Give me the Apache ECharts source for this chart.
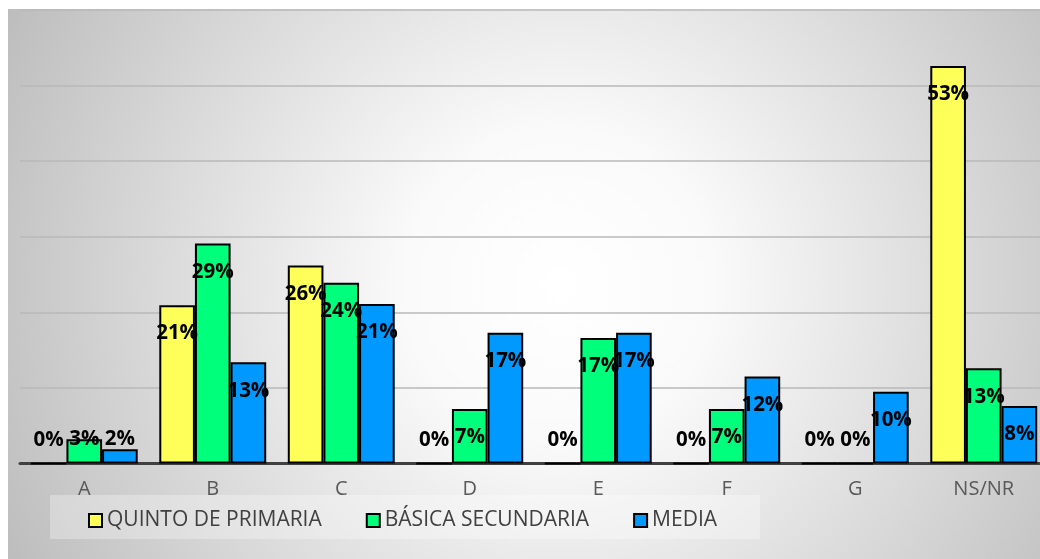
<!DOCTYPE html>
<html><head><meta charset="utf-8">
<script src="https://cdn.jsdelivr.net/npm/echarts@6/dist/echarts.min.js"></script>
<style>
html,body{margin:0;padding:0;background:#fff;overflow:hidden;width:1040px;height:559px;}
#c{position:absolute;left:8px;top:9px;width:1040px;height:550px;}
</style></head>
<body><div id="c"></div>
<script>
const categories = ['A','B','C','D','E','F','G','NS/NR'];
const seriesNames = ['QUINTO DE PRIMARIA','BÁSICA SECUNDARIA','MEDIA'];
const quinto = [0, 20.95, 26.2, 0, 0, 0, 0, 52.6];
const basica = [3.2, 29.1, 23.9, 7.2, 16.6, 7.2, 0, 12.6];
const media = [1.9, 13.4, 21.1, 17.3, 17.3, 11.5, 9.5, 7.6];
const colors = ['#FFFF59','#00FF7A','#0099FF'];

const labelFont = {fontFamily:'Open Sans', fontWeight:'bold', fontSize:20.5, color:'#000'};
function items(arr){
  return arr.map(v => ({
    value: v,
    label: v >= 5 ? {position:'insideTop', distance: 18} : {position:'insideBottom', distance: 14}
  }));
}
const allVals = [quinto, basica, media];
const series = allVals.map((arr,i)=>({
  name: seriesNames[i], type:'bar', data: items(arr),
  barGap:'0%', barCategoryGap:'16.8%',
  itemStyle:{color:colors[i], borderColor:'#000', borderWidth:2},
  label:Object.assign({show:true, formatter: p => Math.round(p.value)+'%'}, labelFont)
}));

const chart = echarts.init(document.getElementById('c'), null, {renderer:'canvas'});
chart.setOption({
  animation:false,
  backgroundColor:{type:'radial', x:0.53, y:0.5, r:1.12,
    colorStops:[{offset:0,color:'#ffffff'},{offset:0.25,color:'#fafafa'},{offset:1,color:'#bdbdbd'}]},
  graphic:[{type:'rect', z:-1, shape:{x:42,y:486,width:710,height:44}, style:{fill:'rgba(255,255,255,0.3)'}}],
  grid:{left:12, right:0, top:1, bottom:95.5},
  legend:{data:seriesNames, left:75, top:496, itemWidth:13, itemHeight:13, itemGap:44,
    icon:'rect',
    itemStyle:{borderColor:'#000', borderWidth:2},
    textStyle:{fontFamily:'Open Sans', fontSize:21, color:'#404040'}},
  xAxis:{type:'category', data:categories,
    axisLine:{lineStyle:{color:'#404040', width:3}},
    axisTick:{show:false},
    axisLabel:{fontFamily:'Open Sans', fontSize:20, color:'#595959', margin:16}},
  yAxis:{type:'value', min:0, max:60, interval:10,
    axisLabel:{show:false}, axisLine:{show:false}, axisTick:{show:false},
    splitLine:{lineStyle:{color:'#b8b8b8', width:1.5}}},
  series: series
});
</script></body></html>
